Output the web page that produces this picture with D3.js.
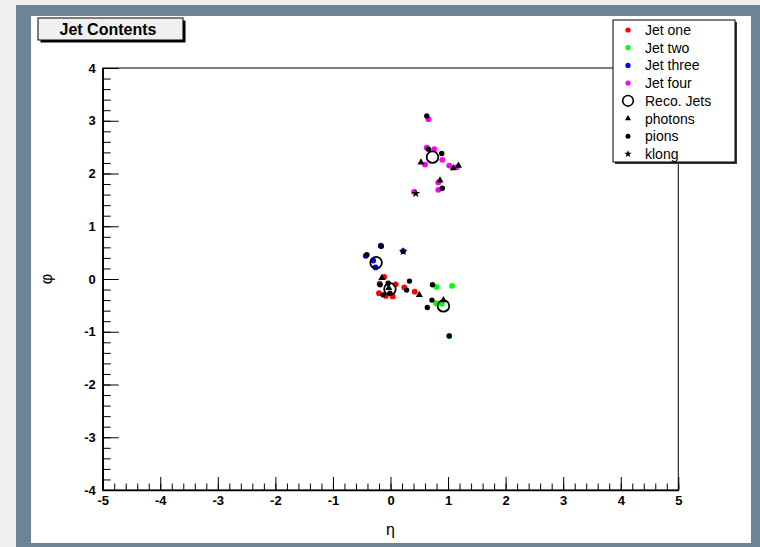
<!DOCTYPE html>
<html>
<head>
<meta charset="utf-8">
<script src="https://cdn.jsdelivr.net/npm/d3@7"></script>
<style>
body { margin: 0; background: #f0f0f0; }
svg { display: block; font-family: "Liberation Sans", Arial, sans-serif; }
</style>
</head>
<body>
<svg id="chart"></svg>
<script>
// [eta, phi] pairs
const jetOne = [[-0.11, 0.04], [0.09, -0.10], [-0.19, -0.09], [-0.20, -0.27], [0.04, -0.33], [-0.08, -0.32], [0.24, -0.16], [0.42, -0.24]];
const jetTwo = [[0.80, -0.15], [1.07, -0.13], [0.79, -0.46], [0.89, -0.47], [1.02, -1.08]];
const jetThree = [[-0.17, 0.63], [-0.43, 0.44], [-0.26, 0.22], [-0.30, 0.35], [0.22, 0.53]];
const jetFour = [[0.66, 3.03], [0.63, 2.49], [0.76, 2.46], [0.90, 2.26], [0.60, 2.17], [1.02, 2.15], [1.15, 2.12], [0.83, 1.83], [0.83, 1.69], [0.41, 1.65]];
const photons = [[-0.15, 0.02], [-0.03, -0.17], [0.50, -0.30], [0.92, -0.40], [0.53, 2.21], [1.09, 2.10], [1.18, 2.15], [0.86, 1.87]];
const pions = [[-0.18, -0.11], [-0.04, -0.08], [-0.01, -0.27], [-0.13, -0.30], [0.33, -0.04], [0.28, -0.21], [0.73, -0.11], [0.72, -0.40], [0.64, -0.54], [1.02, -1.08], [-0.16, 0.62], [-0.41, 0.46], [0.63, 3.09], [0.66, 2.46], [0.89, 2.38], [0.90, 1.72]];
const klong = [[0.22, 0.52], [0.44, 1.62]];
const recoJets = [[-0.01, -0.19], [0.92, -0.51], [-0.25, 0.31], [0.73, 2.31]];

const xTicks = [-5, -4, -3, -2, -1, 0, 1, 2, 3, 4, 5];
const yTicks = [-4, -3, -2, -1, 0, 1, 2, 3, 4];
const legendLabels = ["Jet one", "Jet two", "Jet three", "Jet four", "Reco. Jets", "photons", "pions", "klong"];

class JetPlot {
    constructor( config ) {
        this.config = {
            parent: config.parent,
            width: config.width || 760,
            height: config.height || 547,
            margin: config.margin || {top:68, right:81.7, bottom:57, left:102.7}
        }
        this.init();
    }

    init() {
        let self = this;
        const c = self.config;

        self.svg = d3.select( c.parent )
            .attr('width', c.width)
            .attr('height', c.height);

        // canvas pads
        self.svg.append('rect')
            .attr('x', 16).attr('y', 5)
            .attr('width', c.width - 16).attr('height', c.height - 5)
            .attr('fill', '#6d8497');
        self.svg.append('rect')
            .attr('x', 31).attr('y', 16)
            .attr('width', 720).attr('height', 527)
            .attr('fill', '#ffffff');

        self.xscale = d3.scaleLinear()
            .domain([-5, 5])
            .range([c.margin.left, c.width - c.margin.right]);
        self.yscale = d3.scaleLinear()
            .domain([-4, 4])
            .range([c.height - c.margin.bottom, c.margin.top]);

        self.chart = self.svg.append('g');
    }

    render() {
        let self = this;
        const x = self.xscale, y = self.yscale;
        const x0 = x.range()[0], x1 = x.range()[1];
        const y0 = y.range()[0], y1 = y.range()[1];

        // frame
        self.chart.append('rect')
            .attr('x', x0).attr('y', y1)
            .attr('width', x1 - x0).attr('height', y0 - y1)
            .attr('fill', 'none').attr('stroke', '#000').attr('stroke-width', 1);

        // minor ticks
        self.chart.append('g')
            .attr('transform', `translate(0, ${y0})`)
            .call( d3.axisBottom(x).tickValues(d3.range(-50, 51, 2).map(d => d / 10)).tickSize(-6.5).tickSizeOuter(0).tickFormat('') )
            .call( g => g.select('.domain').remove() );
        self.chart.append('g')
            .attr('transform', `translate(${x0}, 0)`)
            .call( d3.axisLeft(y).tickValues(d3.range(-40, 41, 2).map(d => d / 10)).tickSize(-8).tickSizeOuter(0).tickFormat('') )
            .call( g => g.select('.domain').remove() );

        // major ticks + labels (plain hyphen minus like the original)
        const xaxis = self.chart.append('g')
            .attr('transform', `translate(0, ${y0})`)
            .call( d3.axisBottom(x).tickValues(xTicks).tickSize(-13).tickSizeOuter(0).tickPadding(6).tickFormat(d => String(d)) );
        const yaxis = self.chart.append('g')
            .attr('transform', `translate(${x0}, 0)`)
            .call( d3.axisLeft(y).tickValues(yTicks).tickSize(-16).tickSizeOuter(0).tickPadding(7).tickFormat(d => String(d)) );
        [xaxis, yaxis].forEach(g => {
            g.select('.domain').attr('stroke-width', 1.6);
            g.selectAll('text')
                .attr('fill', '#000')
                .attr('font-family', '"Liberation Sans", Arial, sans-serif')
                .attr('font-weight', 'bold')
                .attr('font-size', '13px');
        });

        // axis titles
        self.chart.append('text')
            .attr('x', x(0)).attr('y', 535)
            .attr('text-anchor', 'middle')
            .attr('font-size', '16px')
            .text('η');
        self.chart.append('text')
            .attr('transform', `translate(52, ${y(0)}) rotate(-90)`)
            .attr('text-anchor', 'middle')
            .attr('font-size', '16px')
            .text('φ');

        // jet particles
        const jets = [[jetOne, '#ff0000'], [jetTwo, '#00ff00'], [jetThree, '#0000ff'], [jetFour, '#ff00ff']];
        jets.forEach(([pts, col]) => {
            self.chart.append('g').selectAll('circle')
                .data(pts)
                .join('circle')
                .attr('cx', d => x(d[0]))
                .attr('cy', d => y(d[1]))
                .attr('r', 2.9)
                .attr('fill', col);
        });

        self.chart.append('g').selectAll('circle')
            .data(pions)
            .join('circle')
            .attr('cx', d => x(d[0]))
            .attr('cy', d => y(d[1]))
            .attr('r', 2.7)
            .attr('fill', '#000');

        self.chart.append('g').selectAll('path')
            .data(photons)
            .join('path')
            .attr('d', d3.symbol(d3.symbolTriangle, 22))
            .attr('transform', d => `translate(${x(d[0])}, ${y(d[1])})`)
            .attr('fill', '#000');

        self.chart.append('g').selectAll('path')
            .data(klong)
            .join('path')
            .attr('d', d3.symbol(d3.symbolStar, 24))
            .attr('transform', d => `translate(${x(d[0])}, ${y(d[1])})`)
            .attr('fill', '#000');

        self.chart.append('g').selectAll('circle')
            .data(recoJets)
            .join('circle')
            .attr('cx', d => x(d[0]))
            .attr('cy', d => y(d[1]))
            .attr('r', 5.8)
            .attr('fill', 'none')
            .attr('stroke', '#000')
            .attr('stroke-width', 1.8);

        self.drawTitle();
        self.drawLegend();
    }

    drawTitle() {
        let self = this;
        const g = self.svg.append('g');
        g.append('rect')
            .attr('x', 40.5).attr('y', 20.5).attr('width', 145).attr('height', 22)
            .attr('fill', '#000');
        g.append('rect')
            .attr('x', 38).attr('y', 18).attr('width', 145).attr('height', 22)
            .attr('fill', '#f0f0f0').attr('stroke', '#000').attr('stroke-width', 1);
        g.append('text')
            .attr('x', 108).attr('y', 35)
            .attr('text-anchor', 'middle')
            .attr('font-weight', 'bold')
            .attr('font-size', '16px')
            .text('Jet Contents');
    }

    drawLegend() {
        let self = this;
        const g = self.svg.append('g');
        g.append('rect')
            .attr('x', 615).attr('y', 22).attr('width', 122).attr('height', 142)
            .attr('fill', '#333');
        g.append('rect')
            .attr('x', 613).attr('y', 20).attr('width', 122).attr('height', 142)
            .attr('fill', '#fff').attr('stroke', '#000').attr('stroke-width', 1);

        const rowY = i => 30 + i * 17.7;
        const mx = 628;
        const dotCols = ['#ff0000', '#00ff00', '#0000ff', '#ff00ff'];
        dotCols.forEach((col, i) => {
            g.append('circle').attr('cx', mx).attr('cy', rowY(i)).attr('r', 2.6).attr('fill', col);
        });
        g.append('circle').attr('cx', mx).attr('cy', rowY(4)).attr('r', 5.3)
            .attr('fill', 'none').attr('stroke', '#000').attr('stroke-width', 1.6);
        g.append('path').attr('d', d3.symbol(d3.symbolTriangle, 16))
            .attr('transform', `translate(${mx}, ${rowY(5)})`);
        g.append('circle').attr('cx', mx).attr('cy', rowY(6)).attr('r', 2.5).attr('fill', '#000');
        g.append('path').attr('d', d3.symbol(d3.symbolStar, 18))
            .attr('transform', `translate(${mx}, ${rowY(7)})`);

        g.selectAll('text.leg')
            .data(legendLabels)
            .join('text')
            .attr('class', 'leg')
            .attr('x', 645)
            .attr('y', (d, i) => rowY(i))
            .attr('dy', '0.36em')
            .attr('font-size', '14px')
            .text(d => d);
    }
}

const plot = new JetPlot({ parent: '#chart' });
plot.render();
</script>
</body>
</html>
